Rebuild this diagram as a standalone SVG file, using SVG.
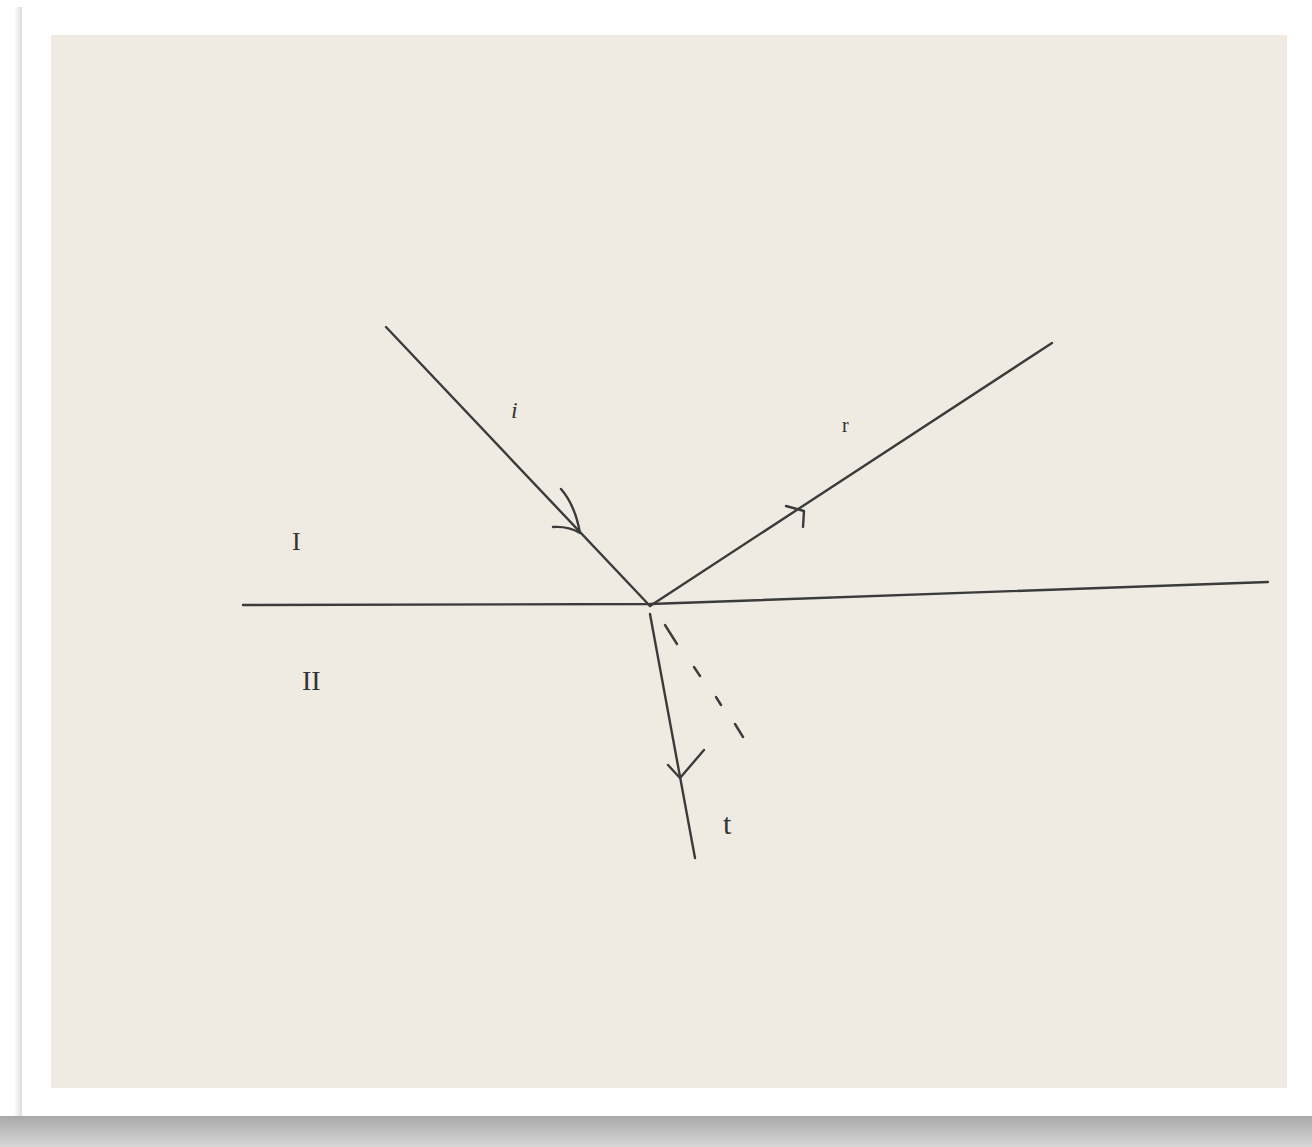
<svg xmlns="http://www.w3.org/2000/svg" width="1312" height="1147" viewBox="0 0 1312 1147">
<defs>
<linearGradient id="shadow" x1="0" y1="0" x2="0" y2="1"><stop offset="0" stop-color="#a8a8a8"/><stop offset="1" stop-color="#d8d8d8"/></linearGradient>
<linearGradient id="lshadow" x1="0" y1="0" x2="1" y2="0"><stop offset="0" stop-color="#ffffff"/><stop offset="1" stop-color="#dcdcdc"/></linearGradient>
<style>
.ln{fill:none;stroke:#3b3b3b;stroke-width:2.4;stroke-linecap:round;stroke-linejoin:round}
.ar{fill:none;stroke:#3b3b3b;stroke-width:2.4;stroke-linecap:round;stroke-linejoin:round}
.lb{font-family:"Liberation Serif",serif;fill:#333;}
</style>
</defs>
<rect x="0" y="0" width="1312" height="1147" fill="#ffffff"/>
<rect x="0" y="1116" width="1312" height="31" fill="url(#shadow)"/>
<rect x="14" y="7" width="8" height="1109" fill="url(#lshadow)"/>
<rect x="22" y="7" width="1286" height="1109" fill="#ffffff"/>
<rect x="51" y="35" width="1236" height="1053" fill="#efebe3"/>
<g id="interface"><polyline class="ln" points="243,605 650,604 1268,582"/></g>
<g id="connectors">
<line class="ln" x1="386" y1="327" x2="650" y2="606"/>
<line class="ln" x1="650" y1="606" x2="1052" y2="343"/>
<line class="ln" x1="650" y1="614" x2="695" y2="858"/>
<g id="dashed">
<line class="ln" x1="665" y1="625" x2="677" y2="644"/>
<line class="ln" x1="694" y1="667" x2="700" y2="676"/>
<line class="ln" x1="716" y1="697" x2="721" y2="705"/>
<line class="ln" x1="735" y1="724" x2="743" y2="737"/>
</g>
<path class="ar" d="M561,489 Q575,505 580,533 M553,527 Q568,526 580,533"/>
<path class="ar" d="M786,506 L804,511 L803,527"/>
<path class="ar" d="M668,765 L680,778 L704,750"/>
</g>
<g id="label-i"><text class="lb" x="511" y="418" font-size="24" font-style="italic">i</text></g>
<g id="label-r"><text class="lb" x="842" y="432" font-size="20">r</text></g>
<g id="label-I"><text class="lb" x="292" y="550" font-size="26">I</text></g>
<g id="label-II"><text class="lb" x="302" y="690" font-size="28">II</text></g>
<g id="label-t"><text class="lb" x="723" y="834" font-size="30">t</text></g>
</svg>
